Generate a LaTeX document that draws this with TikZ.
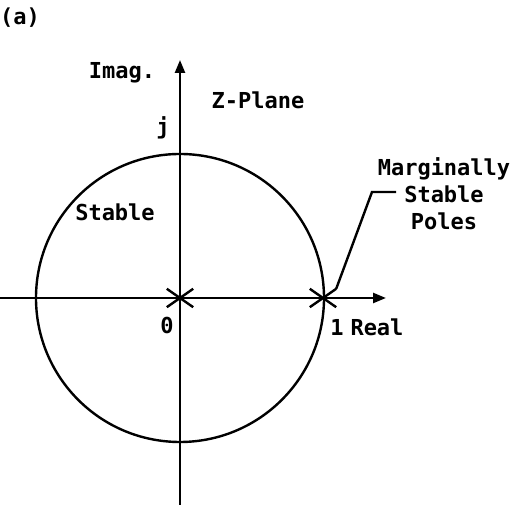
\documentclass[tikz,border=0pt]{standalone}
\usepackage{fontspec}
\setmonofont{DejaVu Sans Mono}
\usetikzlibrary{arrows.meta,shapes.misc}

\begin{document}
\begin{tikzpicture}[
  x=1pt, y=1pt,
  font=\ttfamily\bfseries\fontsize{22}{27}\selectfont,
  axis/.style={-{Triangle[length=13pt,width=10pt]}, line width=2.4pt},
  pole/.style={cross out, draw, line width=2.4pt, minimum width=24pt, minimum height=16pt, inner sep=0pt},
  lbl/.style={inner sep=0pt, align=center},
  leader/.style={line width=2.4pt}
]
\useasboundingbox (-180,-212) rectangle (343,298);

% axes
\coordinate (xl) at (-180,0);
\coordinate (xr) at (206,0);
\coordinate (yb) at (0,-207);
\coordinate (yt) at (0,238);
\draw[axis] (xl) -- (xr);
\draw[axis] (yb) -- (yt);

% unit circle
\node[circle, draw, line width=2.4pt, minimum size=288pt, inner sep=0pt] (uc) at (0,0) {};

% poles
\node[pole] (p0) at (0,0) {};
\node[pole] (p1) at (143,0) {};

% labels
\node[lbl] (tag) at (-160,280) {(a)};
\node[lbl] (imag) at (-58,225) {Imag.};
\node[lbl] (zpl) at (78,198) {Z-Plane};
\node[lbl] (jj) at (-17,170) {j};
\node[lbl] (stab) at (-65,86) {Stable};
\node[lbl] (zero) at (-13,-27) {0};
\node[lbl] (one) at (157,-29) {1};
\node[lbl] (real) at (197,-29) {Real};
\node[lbl] (mspl) at (264,104) {Marginally\\Stable\\Poles};

% leader to the poles at z=1
\coordinate (bend) at (192,106);
\coordinate (lend) at (216,106);
\draw[leader] (p1.north east) -- (bend) -- (lend);
\end{tikzpicture}
\end{document}
